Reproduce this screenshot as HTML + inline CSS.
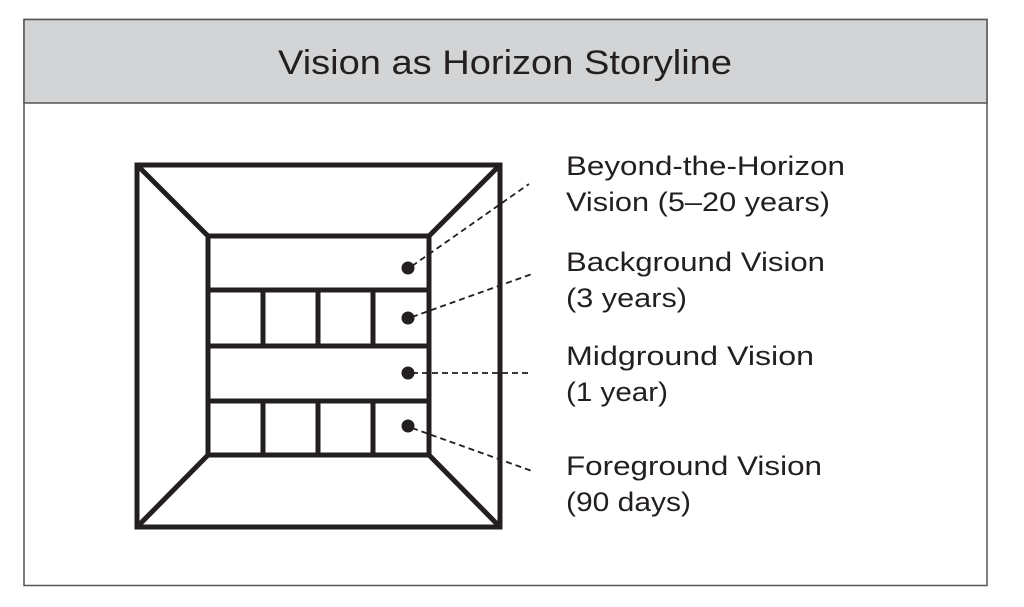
<!DOCTYPE html>
<html><head><meta charset="utf-8"><style>
html,body{margin:0;padding:0;background:#fff;width:1024px;height:607px;overflow:hidden}
</style></head><body>
<svg width="1024" height="607" viewBox="0 0 1024 607" xmlns="http://www.w3.org/2000/svg" font-family="Liberation Sans, sans-serif" fill="#231f20">
<rect x="24" y="19.5" width="963" height="566" fill="#fff" stroke="#555" stroke-width="1.5"/>
<rect x="24" y="19.5" width="963" height="83.5" fill="#d3d4d6" stroke="#555" stroke-width="1.5"/>
<text x="278" y="74" font-size="34" textLength="454" lengthAdjust="spacingAndGlyphs">Vision as Horizon Storyline</text>
<g stroke="#231f20" stroke-width="5" fill="none">
<rect x="137" y="165" width="363" height="362"/>
<rect x="208" y="236" width="221" height="219"/>
<line x1="137" y1="165" x2="208" y2="236"/>
<line x1="500" y1="165" x2="429" y2="236"/>
<line x1="137" y1="527" x2="208" y2="455"/>
<line x1="500" y1="527" x2="429" y2="455"/>
<line x1="208" y1="290" x2="429" y2="290"/>
<line x1="208" y1="346" x2="429" y2="346"/>
<line x1="208" y1="401" x2="429" y2="401"/>
<line x1="263" y1="290" x2="263" y2="346"/>
<line x1="318" y1="290" x2="318" y2="346"/>
<line x1="373" y1="290" x2="373" y2="346"/>
<line x1="263" y1="401" x2="263" y2="455"/>
<line x1="318" y1="401" x2="318" y2="455"/>
<line x1="373" y1="401" x2="373" y2="455"/>
</g>
<g stroke="#231f20" stroke-width="1.8" stroke-dasharray="6,4" fill="none">
<line x1="412" y1="266" x2="529" y2="184"/>
<line x1="412" y1="317" x2="532" y2="274"/>
<line x1="412" y1="373" x2="532" y2="373"/>
<line x1="412" y1="428" x2="532" y2="471"/>
</g>
<circle cx="408" cy="268" r="6.5"/>
<circle cx="408" cy="318" r="6.5"/>
<circle cx="408" cy="373" r="6.5"/>
<circle cx="408" cy="426" r="6.5"/>
<g font-size="27">
<text x="566" y="175" textLength="279" lengthAdjust="spacingAndGlyphs">Beyond-the-Horizon</text>
<text x="566" y="211" textLength="264" lengthAdjust="spacingAndGlyphs">Vision (5–20 years)</text>
<text x="566" y="271" textLength="259" lengthAdjust="spacingAndGlyphs">Background Vision</text>
<text x="566" y="307" textLength="121" lengthAdjust="spacingAndGlyphs">(3 years)</text>
<text x="566" y="365" textLength="248" lengthAdjust="spacingAndGlyphs">Midground Vision</text>
<text x="566" y="401" textLength="102" lengthAdjust="spacingAndGlyphs">(1 year)</text>
<text x="566" y="475" textLength="256" lengthAdjust="spacingAndGlyphs">Foreground Vision</text>
<text x="566" y="511" textLength="125" lengthAdjust="spacingAndGlyphs">(90 days)</text>
</g>
</svg>
</body></html>
